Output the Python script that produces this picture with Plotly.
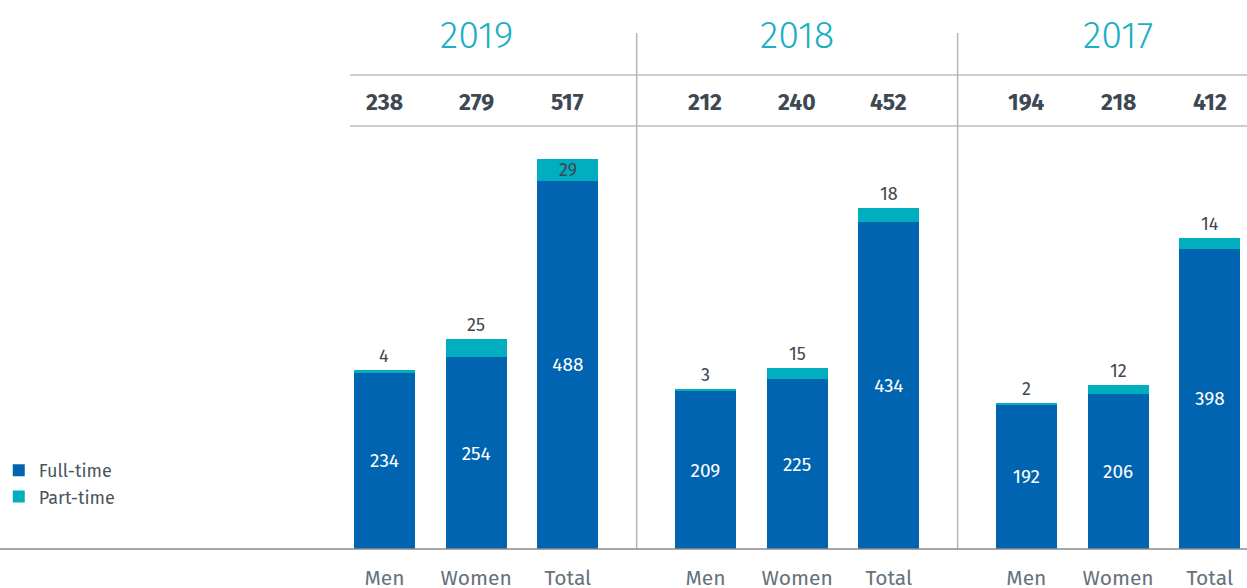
import plotly.graph_objects as go

years = ["2019", "2018", "2017"]
categories = ["Men", "Women", "Total"]
full_time = [[234, 254, 488], [209, 225, 434], [192, 206, 398]]
part_time = [[4, 25, 29], [3, 15, 18], [2, 12, 14]]
totals = [[238, 279, 517], [212, 240, 452], [194, 218, 412]]

BLUE = "#0064b0"
TEAL = "#00aec0"
DARK = "#3d4852"
GREY = "#66727c"
FONT = "Fira Sans, Open Sans, sans-serif"

GROUP_STEP = 3.5
xs, ft, pt, lbl = [], [], [], []
for g in range(len(years)):
    for i in range(len(categories)):
        xs.append(g * GROUP_STEP + i)
        ft.append(full_time[g][i])
        pt.append(part_time[g][i])
        lbl.append(categories[i])

fig = go.Figure()
fig.add_trace(go.Bar(
    x=xs, y=ft, name="Full-time", marker_color=BLUE, width=0.665,
    text=[str(v) for v in ft], textposition="inside", insidetextanchor="middle",
    textfont=dict(color="white", size=19, family=FONT), marker_line_width=0,
))
fig.add_trace(go.Bar(
    x=xs, y=pt, name="Part-time", marker_color=TEAL, width=0.665,
    marker_line_width=0, textposition="none",
))

annotations = []
# part-time labels
for k in range(len(xs)):
    tot = ft[k] + pt[k]
    inside = (k == 2)  # 2019 Total label sits inside the segment
    if inside:
        annotations.append(dict(x=xs[k], y=ft[k] + pt[k] / 2, text=str(pt[k]), showarrow=False,
                                xref="x", yref="y", yanchor="middle",
                                font=dict(size=18, color=DARK, family=FONT)))
    else:
        annotations.append(dict(x=xs[k], y=tot, text=str(pt[k]), showarrow=False,
                                xref="x", yref="y", yanchor="bottom", yshift=1,
                                font=dict(size=18, color=DARK, family=FONT)))

PLOT_H = 549.0
def py(p):
    return (PLOT_H - p) / PLOT_H

# year headers & totals row
for g, yr in enumerate(years):
    annotations.append(dict(x=g * GROUP_STEP + 1, y=py(35), xref="x", yref="paper", text=yr,
                            yanchor="middle", showarrow=False,
                            font=dict(size=38, color="#1ab0c0", family=FONT, weight=300)))
    for i in range(len(categories)):
        annotations.append(dict(x=g * GROUP_STEP + i, y=py(102), xref="x", yref="paper",
                                text="<b>%d</b>" % totals[g][i], showarrow=False, yanchor="middle",
                                font=dict(size=23, color=DARK, family=FONT)))

shapes = []
for yy in (75, 126):
    shapes.append(dict(type="line", xref="x", yref="paper", x0=-0.375, x1=20, y0=py(yy), y1=py(yy),
                       line=dict(color="#bdbdbd", width=1.5)))
for g in range(1, len(years)):
    xv = g * GROUP_STEP - 0.75
    shapes.append(dict(type="line", xref="x", yref="paper", x0=xv, x1=xv, y0=py(33), y1=0,
                       line=dict(color="#b5b5b5", width=1.5)))
shapes.append(dict(type="line", xref="paper", yref="paper", x0=0, x1=1, y0=0, y1=0,
                   line=dict(color="#8a8a8a", width=1.5)))

fig.update_layout(
    barmode="stack",
    width=1247, height=588,
    margin=dict(l=0, r=0, t=0, b=39, autoexpand=False),
    plot_bgcolor="white", paper_bgcolor="white",
    showlegend=True,
    legend=dict(x=-0.001, y=py(452), xanchor="left", yanchor="top", traceorder="normal",
                font=dict(size=18, color="#4a5560", family=FONT),
                tracegroupgap=0, bgcolor="rgba(0,0,0,0)"),
    xaxis=dict(range=[-4.193, 9.406], tickvals=xs, ticktext=lbl, showgrid=False, zeroline=False,
               showline=False, ticks="", ticklabelstandoff=14, automargin=False,
               tickfont=dict(size=21, color=GREY, family=FONT), fixedrange=True),
    yaxis=dict(range=[0, 728], visible=False, showgrid=False, zeroline=False, fixedrange=True,
               automargin=False),
    annotations=annotations,
    shapes=shapes,
    font=dict(family=FONT),
)

fig.write_html("out.html", config={"displayModeBar": False},
               post_script="document.body.style.margin='0';document.body.style.overflow='hidden';")
